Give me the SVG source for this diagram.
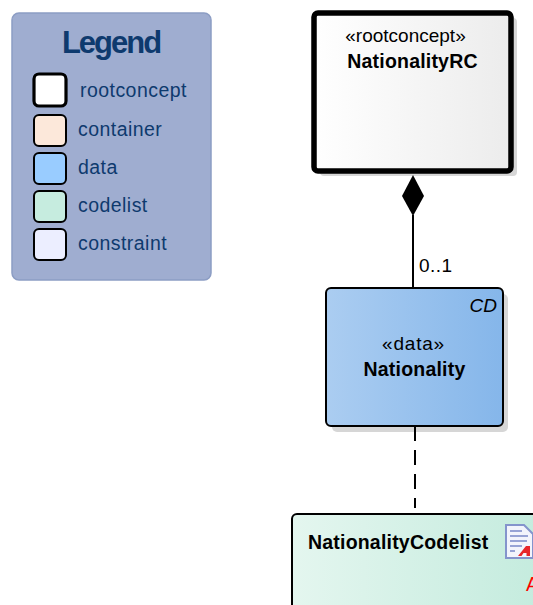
<svg xmlns="http://www.w3.org/2000/svg" width="533" height="605" viewBox="0 0 533 605">
<style>
text{font-family:"Liberation Sans",Arial,sans-serif;}
.leg{font-size:19.5px;fill:#0e3a6e;letter-spacing:.45px}
.sw{stroke:#000;stroke-width:2}
.n{font-size:19px;fill:#000}
.b{font-weight:bold;letter-spacing:.2px;font-size:19.5px}
.shadow{fill:#000;opacity:.16}
</style>
<defs>
<linearGradient id="gw" x1="0" x2="1" y1="0" y2="0"><stop offset="0" stop-color="#fff"/><stop offset="1" stop-color="#ececec"/></linearGradient>
<linearGradient id="gb" x1="0" x2="1" y1="0" y2="0"><stop offset="0" stop-color="#abcdf1"/><stop offset="1" stop-color="#85b6ea"/></linearGradient>
<linearGradient id="gg" x1="0" x2="1" y1="0" y2="0"><stop offset="0" stop-color="#e4f6ef"/><stop offset="1" stop-color="#c3ebdd"/></linearGradient>
</defs>
<g id="legend">
<rect x="12" y="13" width="199" height="267" rx="7" fill="#9fadd0" stroke="#8c9dc4" stroke-width="1.5"/>
<text x="111" y="53" text-anchor="middle" font-size="31" font-weight="bold" fill="#0e3a6e" letter-spacing="-2">Legend</text>
<rect class="sw" x="34" y="74" width="32" height="32" rx="5" fill="#fff" style="stroke-width:3.2"/>
<text class="leg" x="80" y="97">rootconcept</text>
<rect class="sw" x="34" y="115" width="32" height="31" rx="5" fill="#fce8da"/>
<text class="leg" x="78" y="136">container</text>
<rect class="sw" x="34" y="153" width="32" height="31" rx="5" fill="#99ccff"/>
<text class="leg" x="78" y="174">data</text>
<rect class="sw" x="34" y="191" width="32" height="31" rx="5" fill="#c6ecdf"/>
<text class="leg" x="78" y="212">codelist</text>
<rect class="sw" x="34" y="229" width="32" height="31" rx="5" fill="#eceeff"/>
<text class="leg" x="78" y="250">constraint</text>
</g>
<g id="connectors">
<path d="M413 215V288" stroke="#000" stroke-width="2" fill="none"/>
<path d="M413 175L424 196L413 216L402 196Z" fill="#000"/>
<path d="M415 426V508" stroke="#000" stroke-width="2" fill="none" stroke-dasharray="15 9"/>
<text class="n" x="419" y="272" style="letter-spacing:.5px">0..1</text>
</g>
<g id="NationalityRC">
<rect class="shadow" x="320" y="18" width="197" height="158" rx="4"/>
<rect x="314" y="13" width="197" height="158" rx="4" fill="url(#gw)" stroke="#000" stroke-width="5.5"/>
<text class="n" x="405.500" y="42" text-anchor="middle">«rootconcept»</text>
<text class="n b" x="412.500" y="68" text-anchor="middle">NationalityRC</text>
</g>
<g id="Nationality">
<rect class="shadow" x="332" y="294" width="176" height="138" rx="5"/>
<rect x="326" y="288" width="177" height="138" rx="5" fill="url(#gb)" stroke="#000" stroke-width="2"/>
<text class="n" x="497" y="312" text-anchor="end" font-style="italic">CD</text>
<text class="n" x="413.500" y="350" text-anchor="middle" style="letter-spacing:.8px">«data»</text>
<text class="n b" x="414.500" y="376" text-anchor="middle">Nationality</text>
</g>
<g id="NationalityCodelist">
<rect x="292" y="514" width="260" height="110" rx="5" fill="url(#gg)" stroke="#000" stroke-width="2"/>
<text class="n b" x="308" y="549">NationalityCodelist</text>
<path d="M506 525H524L533 534V558H506Z" fill="#f2f4fc" stroke="#8494cc" stroke-width="2"/>
<path d="M510 531H522M510 536H528M510 541H527M510 546H522M510 551H515" stroke="#7a88c8" stroke-width="1.5"/>
<path d="M518 556L526 546H530V556H526.500V553H523.500L521.500 556Z" fill="#e8262a"/>
<text x="526" y="591" font-size="19.500" fill="#f00">A</text>
</g>
</svg>
